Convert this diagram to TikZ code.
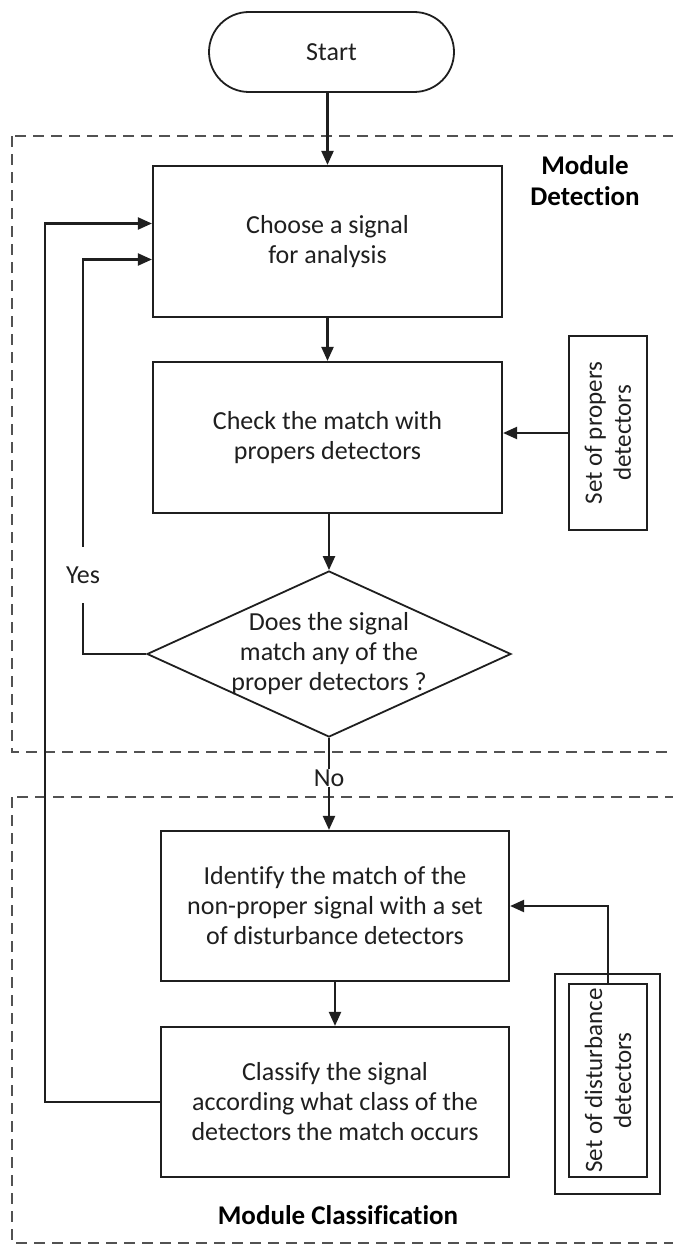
\documentclass[tikz,border=0pt]{standalone}
\usepackage{fontspec}
\setmainfont{Carlito}[Ligatures=NoCommon]
\usetikzlibrary{arrows.meta,shapes.geometric}

\begin{document}
\begin{tikzpicture}[x=1pt,y=-1pt,
  every node/.style={font=\fontsize{26}{30}\selectfont, text=black!88},
  ink/.style={draw=black!88, line width=2.2pt},
  stepbox/.style={ink, align=center, inner sep=0pt, minimum width=349pt, minimum height=151pt},
  flow/.style={ink, -{Triangle[length=14pt,width=12pt]}},
  link/.style={ink},
  module/.style={draw=black!68, line width=2.4pt, dash pattern=on 11pt off 7pt},
  heading/.style={font=\fontsize{27}{31}\selectfont\bfseries, align=center, text=black},
  store/.style={ink, rotate=90, align=center, inner sep=0pt, minimum width=194pt, minimum height=78pt, font=\fontsize{25}{29}\selectfont},
  tag/.style={fill=white, inner sep=1pt}
]
\useasboundingbox[fill=white] (0,0) rectangle (672,1244);

% module frames
\draw[module] (12,136) rectangle (690,752);
\draw[module] (12,797) rectangle (690,1243);

% terminator
\node[ink, line width=1.8pt, rounded corners=40pt, minimum width=245pt, minimum height=80pt] (start) at (331.5,52) {Start};

% process steps
\node[stepbox] (choose) at (327.5,241.5) {Choose a signal\\for analysis};
\node[stepbox] (check) at (327.5,437.5) {Check the match with\\propers detectors};
\node[ink, line width=1.8pt, diamond, minimum width=364pt, minimum height=166pt, inner sep=0pt] (match) at (329,654) {};
\node[align=center] at (match) {Does the signal\\match any of the\\proper detectors ?};
\node[stepbox, minimum width=348pt, minimum height=150pt] (ident) at (335,906) {Identify the match of the\\non-proper signal with a set\\of disturbance detectors};
\node[stepbox, minimum width=348pt, minimum height=150pt] (classify) at (335,1102) {Classify the signal\\according what class of the\\detectors the match occurs};

% detector sets
\node[store] (proper) at (608,433) {Set of propers\\detectors};
\node[ink, line width=1.4pt, minimum width=105pt, minimum height=220pt] (distouter) at (607.5,1084) {};
\node[store, minimum width=193pt] (dist) at (608,1080.5) {Set of disturbance\\detectors};

% module headings
\node[heading] (headdet) at (585,181) {Module\\Detection};
\node[heading] (headcls) at (338,1215) {Module Classification};

% connectors
\draw[flow] (start.south -| choose.north) -- (choose.north);
\draw[flow] (choose) -- (check);
\draw[flow] (check.south -| match.north) -- (match.north);
\draw[flow] (proper.north) -- (check.east |- proper.north);
\draw[flow] (dist.east) |- (ident.east);
\draw[flow] (ident) -- (classify);

\node[tag, minimum height=56pt] (yes) at (83,575) {Yes};
\draw[link] (match.west) -| (yes.south);
\draw[flow] (yes.north) |- ([yshift=-18pt]choose.west);
\draw[flow] (classify.west) -- ++(-115,0) |- ([yshift=18pt]choose.west);

\draw[flow] (match.south) -- (match.south |- ident.north);
\node[tag] (no) at (329,778) {No};
\end{tikzpicture}
\end{document}
